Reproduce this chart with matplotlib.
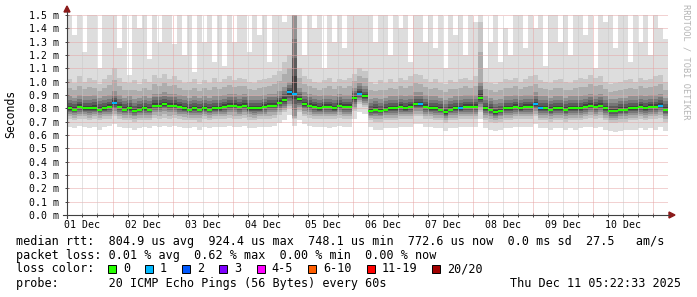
import numpy as np
import matplotlib.pyplot as plt
from matplotlib.patches import Rectangle, Polygon
from matplotlib.lines import Line2D

W, H = 697, 297
MONO = "DejaVu Sans Mono"

# ==== Data (ms), one value per 2-hour bin, 10 days ====
bin_hours = 2.0
start_hour = 5.83  # time of day at the left edge

median = [
    0.80, 0.79, 0.81, 0.80, 0.80, 0.80, 0.79, 0.80, 0.81, 0.84, 0.81, 0.79,
    0.80, 0.78, 0.79, 0.80, 0.79, 0.82, 0.82, 0.83, 0.82, 0.82, 0.81, 0.80,
    0.79, 0.80, 0.79, 0.80, 0.79, 0.80, 0.80, 0.81, 0.82, 0.82, 0.81, 0.82,
    0.80, 0.80, 0.80, 0.81, 0.82, 0.82, 0.84, 0.86, 0.92, 0.91, 0.87, 0.83,
    0.82, 0.81, 0.80, 0.81, 0.81, 0.80, 0.82, 0.81, 0.81, 0.88, 0.91, 0.89,
    0.78, 0.79, 0.78, 0.79, 0.80, 0.80, 0.81, 0.80, 0.81, 0.83, 0.83, 0.81,
    0.80, 0.80, 0.79, 0.77, 0.79, 0.80, 0.80, 0.81, 0.81, 0.81, 0.88, 0.80,
    0.79, 0.77, 0.78, 0.80, 0.80, 0.81, 0.80, 0.81, 0.81, 0.83, 0.80, 0.80,
    0.79, 0.80, 0.80, 0.79, 0.80, 0.80, 0.80, 0.81, 0.82, 0.81, 0.82, 0.80,
    0.78, 0.78, 0.79, 0.79, 0.80, 0.80, 0.81, 0.80, 0.81, 0.81, 0.82, 0.79,
]
loss_one_bins = [9, 44, 45, 58, 70, 78, 93, 94, 118]

p_max = [
    1.50, 1.35, 1.50, 1.22, 1.50, 1.50, 1.10, 1.50, 1.50, 1.50, 1.25, 1.50,
    1.05, 1.50, 1.40, 1.50, 1.17, 1.50, 1.30, 1.50, 1.50, 1.28, 1.50, 1.20,
    1.50, 1.07, 1.50, 1.30, 1.50, 1.15, 1.50, 1.12, 1.50, 1.30, 1.50, 1.50,
    1.22, 1.50, 1.35, 1.50, 1.15, 1.50, 1.50, 1.45, 1.50, 1.50, 1.50, 1.20,
    1.50, 1.40, 1.50, 1.10, 1.50, 1.30, 1.50, 1.25, 1.50, 1.50, 1.50, 1.50,
    1.50, 1.30, 1.50, 1.50, 1.20, 1.50, 1.40, 1.50, 1.15, 1.50, 1.50, 1.30,
    1.50, 1.25, 1.50, 1.10, 1.50, 1.35, 1.50, 1.20, 1.50, 1.45, 1.50, 1.10,
    1.30, 1.50, 1.15, 1.40, 1.20, 1.50, 1.50, 1.25, 1.50, 1.40, 1.50, 1.12,
    1.50, 1.50, 1.30, 1.50, 1.20, 1.50, 1.50, 1.35, 1.50, 1.10, 1.50, 1.45,
    1.50, 1.25, 1.50, 1.50, 1.15, 1.50, 1.30, 1.50, 1.20, 1.50, 1.40, 1.32,
]
p90 = [
    1.02, 0.99, 1.04, 1.00, 1.03, 1.01, 0.98, 1.02, 1.05, 1.10, 1.03, 1.00,
    0.99, 1.01, 0.98, 1.02, 1.00, 1.05, 1.03, 1.06, 1.02, 1.04, 1.01, 0.99,
    1.00, 1.02, 0.98, 1.01, 0.99, 1.03, 1.00, 1.02, 1.04, 1.01, 1.03, 1.02,
    1.00, 0.99, 1.01, 1.02, 1.03, 1.05, 1.08, 1.15, 1.20, 1.50, 1.10, 1.04,
    1.02, 1.00, 0.99, 1.01, 1.03, 1.00, 1.02, 1.01, 1.03, 1.06, 1.10, 1.08,
    1.00, 0.98, 1.01, 0.99, 1.02, 1.00, 1.03, 1.01, 1.04, 1.06, 1.05, 1.02,
    1.00, 1.02, 0.99, 0.98, 1.01, 1.00, 1.02, 1.03, 1.01, 1.04, 1.45, 1.00,
    0.99, 0.98, 1.00, 1.02, 1.01, 1.03, 1.00, 1.02, 1.04, 1.05, 1.01, 1.00,
    0.99, 1.01, 1.02, 1.00, 0.99, 1.01, 1.03, 1.02, 1.05, 1.03, 1.04, 1.00,
    0.98, 0.99, 1.00, 1.01, 1.02, 1.00, 1.03, 1.01, 1.02, 1.04, 1.05, 1.00,
]
p75 = [
    0.89, 0.88, 0.90, 0.89, 0.89, 0.90, 0.88, 0.89, 0.90, 0.93, 0.90, 0.88,
    0.89, 0.87, 0.88, 0.89, 0.88, 0.91, 0.91, 0.92, 0.91, 0.91, 0.90, 0.89,
    0.88, 0.89, 0.88, 0.89, 0.88, 0.89, 0.89, 0.90, 0.91, 0.91, 0.90, 0.91,
    0.89, 0.89, 0.89, 0.90, 0.91, 0.91, 0.93, 0.96, 1.00, 1.50, 0.95, 0.92,
    0.91, 0.90, 0.89, 0.90, 0.90, 0.89, 0.91, 0.90, 0.90, 0.95, 0.99, 0.97,
    0.87, 0.88, 0.87, 0.88, 0.89, 0.89, 0.90, 0.89, 0.90, 0.92, 0.92, 0.90,
    0.89, 0.89, 0.88, 0.86, 0.88, 0.89, 0.89, 0.90, 0.90, 0.90, 1.00, 0.89,
    0.88, 0.86, 0.87, 0.89, 0.89, 0.90, 0.89, 0.90, 0.90, 0.92, 0.89, 0.89,
    0.88, 0.89, 0.89, 0.88, 0.89, 0.89, 0.89, 0.90, 0.91, 0.90, 0.91, 0.89,
    0.87, 0.87, 0.88, 0.88, 0.89, 0.89, 0.90, 0.89, 0.90, 0.90, 0.91, 0.88,
]
p25 = [
    0.76, 0.75, 0.76, 0.76, 0.75, 0.76, 0.75, 0.76, 0.76, 0.78, 0.76, 0.75,
    0.75, 0.74, 0.75, 0.75, 0.75, 0.77, 0.77, 0.78, 0.77, 0.77, 0.76, 0.76,
    0.75, 0.75, 0.75, 0.76, 0.75, 0.76, 0.76, 0.76, 0.77, 0.77, 0.76, 0.77,
    0.76, 0.75, 0.76, 0.76, 0.77, 0.77, 0.79, 0.80, 0.83, 0.74, 0.81, 0.78,
    0.77, 0.76, 0.76, 0.76, 0.76, 0.76, 0.77, 0.76, 0.76, 0.81, 0.86, 0.84,
    0.74, 0.74, 0.74, 0.75, 0.75, 0.75, 0.76, 0.76, 0.76, 0.78, 0.78, 0.76,
    0.76, 0.75, 0.75, 0.73, 0.75, 0.75, 0.76, 0.76, 0.76, 0.76, 0.81, 0.75,
    0.74, 0.73, 0.74, 0.75, 0.75, 0.76, 0.76, 0.76, 0.76, 0.78, 0.75, 0.75,
    0.74, 0.75, 0.75, 0.74, 0.75, 0.75, 0.75, 0.76, 0.77, 0.76, 0.77, 0.75,
    0.73, 0.73, 0.74, 0.74, 0.75, 0.75, 0.76, 0.75, 0.76, 0.76, 0.77, 0.74,
]
p10 = [
    0.72, 0.71, 0.72, 0.72, 0.71, 0.72, 0.71, 0.72, 0.72, 0.74, 0.72, 0.71,
    0.71, 0.70, 0.71, 0.71, 0.71, 0.73, 0.72, 0.73, 0.72, 0.73, 0.72, 0.71,
    0.71, 0.71, 0.70, 0.72, 0.71, 0.72, 0.72, 0.72, 0.73, 0.72, 0.72, 0.73,
    0.71, 0.71, 0.72, 0.72, 0.72, 0.73, 0.75, 0.77, 0.80, 0.72, 0.77, 0.74,
    0.73, 0.72, 0.72, 0.72, 0.72, 0.72, 0.73, 0.72, 0.72, 0.78, 0.83, 0.81,
    0.71, 0.70, 0.70, 0.71, 0.71, 0.71, 0.72, 0.72, 0.72, 0.74, 0.74, 0.72,
    0.72, 0.71, 0.71, 0.69, 0.71, 0.71, 0.72, 0.72, 0.72, 0.72, 0.77, 0.71,
    0.70, 0.69, 0.70, 0.71, 0.71, 0.72, 0.72, 0.72, 0.72, 0.74, 0.71, 0.71,
    0.70, 0.71, 0.71, 0.70, 0.71, 0.71, 0.71, 0.72, 0.73, 0.72, 0.73, 0.71,
    0.69, 0.69, 0.70, 0.70, 0.71, 0.71, 0.72, 0.71, 0.72, 0.72, 0.73, 0.70,
]
p_min = [
    0.66, 0.65, 0.67, 0.66, 0.65, 0.66, 0.64, 0.66, 0.67, 0.68, 0.66, 0.65,
    0.65, 0.64, 0.65, 0.66, 0.65, 0.67, 0.66, 0.67, 0.66, 0.67, 0.66, 0.65,
    0.65, 0.66, 0.64, 0.66, 0.65, 0.66, 0.66, 0.66, 0.67, 0.66, 0.66, 0.67,
    0.65, 0.65, 0.66, 0.66, 0.66, 0.67, 0.69, 0.71, 0.75, 0.67, 0.71, 0.68,
    0.67, 0.66, 0.66, 0.66, 0.65, 0.66, 0.67, 0.66, 0.66, 0.72, 0.77, 0.76,
    0.66, 0.64, 0.64, 0.65, 0.65, 0.65, 0.66, 0.66, 0.66, 0.68, 0.68, 0.66,
    0.66, 0.65, 0.65, 0.63, 0.65, 0.65, 0.66, 0.66, 0.66, 0.66, 0.72, 0.65,
    0.64, 0.63, 0.64, 0.65, 0.65, 0.66, 0.66, 0.66, 0.66, 0.68, 0.65, 0.65,
    0.64, 0.65, 0.65, 0.64, 0.65, 0.64, 0.65, 0.66, 0.66, 0.65, 0.66, 0.64,
    0.63, 0.62, 0.63, 0.64, 0.64, 0.64, 0.65, 0.64, 0.65, 0.64, 0.66, 0.63,
]

day_labels = ["01 Dec", "02 Dec", "03 Dec", "04 Dec", "05 Dec",
              "06 Dec", "07 Dec", "08 Dec", "09 Dec", "10 Dec"]
y_ticks = [0.0, 0.1, 0.2, 0.3, 0.4, 0.5, 0.6, 0.7, 0.8, 0.9, 1.0, 1.1, 1.2, 1.3, 1.4, 1.5]
y_labels = ["0.0 m", "0.1 m", "0.2 m", "0.3 m", "0.4 m", "0.5 m", "0.6 m", "0.7 m",
            "0.8 m", "0.9 m", "1.0 m", "1.1 m", "1.2 m", "1.3 m", "1.4 m", "1.5 m"]

loss_labels = ["0", "1", "2", "3", "4-5", "6-10", "11-19", "20/20"]
loss_colors = ["#26ff00", "#00b8ff", "#0059ff", "#7e00ff", "#ff00ff", "#ff5e00", "#ff0000", "#a10000"]

stats_line = "median rtt:  804.9 us avg  924.4 us max  748.1 us min  772.6 us now  0.0 ms sd  27.5   am/s"
loss_line = "packet loss: 0.01 % avg  0.62 % max  0.00 % min  0.00 % now"
probe_line = "probe:       20 ICMP Echo Pings (56 Bytes) every 60s"
stamp = "Thu Dec 11 05:22:33 2025"

# ==== Figure ====
fig = plt.figure(figsize=(W / 100, H / 100), dpi=100)
fig.patch.set_facecolor("white")
ax = fig.add_axes([67 / W, 1 - 215 / H, 601 / W, 200 / H])
n = len(median)
edges = np.arange(n + 1) * bin_hours
ax.set_xlim(0, 240)
ax.set_ylim(0, 1.5)
for s in ax.spines.values():
    s.set_visible(False)

med = np.array(median)
lo_a, hi_a = np.array(p10), np.array(p90)
lo_b, hi_b = np.array(p25), np.array(p75)

# smoke: outer band, then shaded layers stepping in towards the median
ax.stairs(p_max, edges, baseline=p_min, fill=True, color="#dddddd", lw=0, zorder=1)
ax.stairs(p90, edges, baseline=p10, fill=True, color="#c6c6c6", lw=0, zorder=1)
ax.stairs(hi_a + (hi_b - hi_a) * 0.5, edges, baseline=lo_a + (lo_b - lo_a) * 0.5,
          fill=True, color="#adadad", lw=0, zorder=1)
ax.stairs(p75, edges, baseline=p25, fill=True, color="#919191", lw=0, zorder=1)
for t, c in [(0.3, "#777777"), (0.55, "#5c5c5c"), (0.78, "#404040")]:
    ax.stairs(hi_b + (med - hi_b) * t, edges, baseline=lo_b + (med - lo_b) * t,
              fill=True, color=c, lw=0, zorder=1)

# grid
for v in y_ticks[1:]:
    ax.axhline(v, color="#e6a4a4", lw=0.72, ls=(0, (1, 1)), zorder=2)
first_grid = 6 - start_hour % 6
grid_h = np.arange(first_grid, 240, 6)
for h in grid_h:
    midnight = abs((start_hour + h) % 24) < 0.01 or abs((start_hour + h) % 24 - 24) < 0.01
    ax.axvline(h, color="#e6a4a4" if midnight else "#c8c8c8", lw=0.72, ls=(0, (1, 1)), zorder=2)

# median with loss colors
med_colors = [loss_colors[1] if i in loss_one_bins else loss_colors[0] for i in range(n)]
ax.hlines(median, edges[:-1], edges[1:], colors=med_colors, lw=1.5, capstyle="butt", zorder=3)

# ticks
noon = np.arange(12 - start_hour, 240, 24)
ax.set_xticks(noon)
ax.set_xticklabels(day_labels, fontfamily=MONO, fontsize=7.1)
ax.set_xticks(grid_h, minor=True)
ax.set_yticks(y_ticks)
ax.set_yticklabels(y_labels, fontfamily=MONO, fontsize=7.1)
ax.tick_params(axis="both", which="both", direction="inout", length=3, width=0.7, color="#404040")
ax.tick_params(axis="x", pad=2)
ax.tick_params(axis="y", pad=4)

# axis lines with arrows
def fx(x):
    return x / W

def fy(y):
    return 1 - y / H

fig.add_artist(Line2D([fx(67), fx(67)], [fy(218), fy(12)], color="#404040", lw=0.8))
fig.add_artist(Line2D([fx(63), fx(669)], [fy(215), fy(215)], color="#404040", lw=0.8))
fig.add_artist(Polygon([(fx(64), fy(12)), (fx(70), fy(12)), (fx(67), fy(6))],
                       closed=True, color="#8b1a1a", transform=fig.transFigure))
fig.add_artist(Polygon([(fx(669), fy(212)), (fx(669), fy(218)), (fx(675), fy(215))],
                       closed=True, color="#8b1a1a", transform=fig.transFigure))

# texts
fig.text(fx(11), fy(114), "Seconds", rotation=90, ha="center", va="center",
         fontfamily=MONO, fontsize=8.3)
fig.text(fx(686), fy(4), "RRDTOOL / TOBI OETIKER", rotation=270, ha="center", va="top",
         fontfamily=MONO, fontsize=6.2, color="#b4b4b4")

ch = 7.14
fig.text(fx(16), fy(241.3), stats_line, ha="left", va="center", fontfamily=MONO, fontsize=8.5)
fig.text(fx(16), fy(255.3), loss_line, ha="left", va="center", fontfamily=MONO, fontsize=8.5)
fig.text(fx(16), fy(268.7), "loss color:", ha="left", va="center", fontfamily=MONO, fontsize=8.5)
fig.text(fx(16), fy(283.7), probe_line, ha="left", va="center", fontfamily=MONO, fontsize=8.5)
fig.text(fx(681), fy(283.7), stamp, ha="right", va="center", fontfamily=MONO, fontsize=8.5)

bx = 108
for lab, col in zip(loss_labels, loss_colors):
    fig.add_artist(Rectangle((fx(bx), fy(272.5)), 8 / W, 8 / H, facecolor=col,
                             edgecolor="black", lw=0.7, transform=fig.transFigure))
    fig.text(fx(bx + 15), fy(268.7), lab, ha="left", va="center", fontfamily=MONO, fontsize=8.5)
    bx = bx + 15 + len(lab) * ch + 15

fig.savefig("out.png", dpi=100)
